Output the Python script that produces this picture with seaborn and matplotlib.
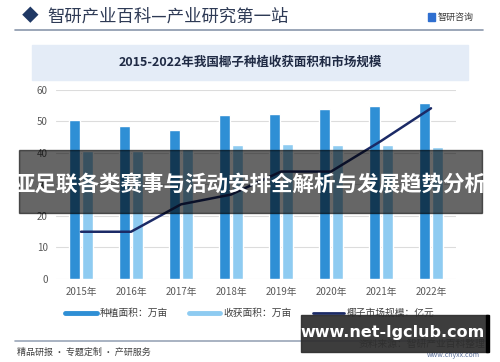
import numpy as np
import pandas as pd
import matplotlib.pyplot as plt
from matplotlib.lines import Line2D
from matplotlib.patches import Rectangle
import seaborn as sns

# Data
years = ['2015年', '2016年', '2017年', '2018年', '2019年', '2020年', '2021年', '2022年']
plant_area = [50.4, 48.6, 47.4, 52.1, 52.3, 53.9, 55.0, 55.9]
harvest_area = [40.7, 40.7, 41.2, 42.5, 42.9, 42.5, 42.5, 42.0]
market_size = [15.0, 15.0, 23.7, 26.8, 34.1, 34.1, 43.8, 54.2]
series_names = ['种植面积：万亩', '收获面积：万亩', '椰子市场规模：亿元']
y_ticks = [0, 10, 20, 30, 40, 50, 60]

c_plant = '#2f8fd5'
c_harvest = '#8ecbf1'
c_line = '#1b2a66'

sns.set_theme(style='white')
plt.rcParams['font.family'] = ['Noto Sans CJK SC', 'DejaVu Sans']

df = pd.DataFrame({
    'year': years * 2,
    'value': plant_area + harvest_area,
    'series': [series_names[0]] * len(years) + [series_names[1]] * len(years),
})

fig = plt.figure(figsize=(5, 3.62), dpi=100)
ax = fig.add_axes([0.112, 0.2293, 0.8, 0.5221])

sns.barplot(data=df, x='year', y='value', hue='series',
            palette=[c_plant, c_harvest], saturation=1, width=0.52, gap=0.08,
            legend=False, ax=ax, zorder=2)
sns.lineplot(x=np.arange(len(years)), y=market_size, color=c_line,
             lw=1.8, ax=ax, zorder=3)

ax.set_xlim(-0.5, len(years) - 0.5)
ax.set_ylim(0, 60)
ax.set_yticks(y_ticks)
ax.set_xlabel('')
ax.set_ylabel('')
ax.grid(axis='y', color='#dcdcdc', lw=0.8, zorder=0)
for s in ax.spines.values():
    s.set_visible(False)
ax.tick_params(axis='both', length=0, labelsize=7, labelcolor='#595959', pad=6)

handles = [Line2D([], [], color=c_plant, lw=3.5),
           Line2D([], [], color=c_harvest, lw=3.5),
           Line2D([], [], color=c_line, lw=2)]
fig.legend(handles, series_names, loc='center', bbox_to_anchor=(0.5, 1 - 313 / 362),
           ncol=3, frameon=False, fontsize=7, handlelength=3.2, handletextpad=0.3,
           columnspacing=2.2, labelcolor='#404040')

# header
fig.text(0.06, 1 - 17 / 362, '◆', fontsize=12, color='#1f3864', va='center', ha='center')
fig.text(0.095, 1 - 17 / 362, '智研产业百科—产业研究第一站', fontsize=12.5,
         color='#2e3a55', va='center', ha='left')
fig.patches.append(Rectangle((0.855, 1 - 21 / 362), 0.014, 0.022, color='#2f6fd0',
                             transform=fig.transFigure, figure=fig))
fig.text(0.875, 1 - 17 / 362, '智研咨询', fontsize=6.5, color='#3a3a3a', va='center')
fig.add_artist(Line2D([0.03, 0.965], [1 - 30 / 362] * 2, color='#8a97ab', lw=1.2,
                      transform=fig.transFigure))
fig.patches.append(Rectangle((0.064, 1 - 80 / 362), 0.872, 35 / 362, color='#e4ecf7',
                             transform=fig.transFigure, figure=fig))
fig.text(0.5, 1 - 62 / 362, '2015-2022年我国椰子种植收获面积和市场规模', fontsize=9,
         fontweight='bold', color='#1f2a44', ha='center', va='center')

# footer
fig.add_artist(Line2D([0.03, 0.97], [1 - 341 / 362] * 2, color='#9aa6b8', lw=1.2,
                      transform=fig.transFigure))
fig.text(0.034, 1 - 352 / 362, '精品研报 · 专题定制 · 产研服务', fontsize=6.5,
         color='#404040', va='center')
fig.text(0.97, 1 - 344 / 362, '资料来源：智研产业百科整理', fontsize=7, color='#404040',
         va='center', ha='right')
fig.text(0.96, 1 - 355 / 362, 'www.chyxx.com', fontsize=5, color='#5a6f9a',
         va='center', ha='right')

# overlay banner
fig.patches.append(Rectangle((0.038, 1 - 213 / 362), 0.926, 63 / 362, color='black',
                             alpha=0.6, transform=fig.transFigure, figure=fig, zorder=10))
fig.text(0.5, 1 - 184 / 362, '亚足联各类赛事与活动安排全解析与发展趋势分析', fontsize=15.5,
         fontweight='bold', color='white', ha='center', va='center', zorder=11)

# site stamp
fig.patches.append(Rectangle((0.602, 1 - 352 / 362), 0.374, 37 / 362, color='#2e2e2e',
                             alpha=0.93, transform=fig.transFigure, figure=fig, zorder=10))
fig.patches.append(Rectangle((0.972, 1 - 352 / 362), 0.006, 37 / 362, color='black',
                             transform=fig.transFigure, figure=fig, zorder=10))
fig.text(0.785, 1 - 333 / 362, 'www.net-lgclub.com', fontsize=11.5, fontweight='bold',
         family=['DejaVu Sans'], color='white', ha='center', va='center', zorder=11)

fig.savefig('out.png', dpi=100)
